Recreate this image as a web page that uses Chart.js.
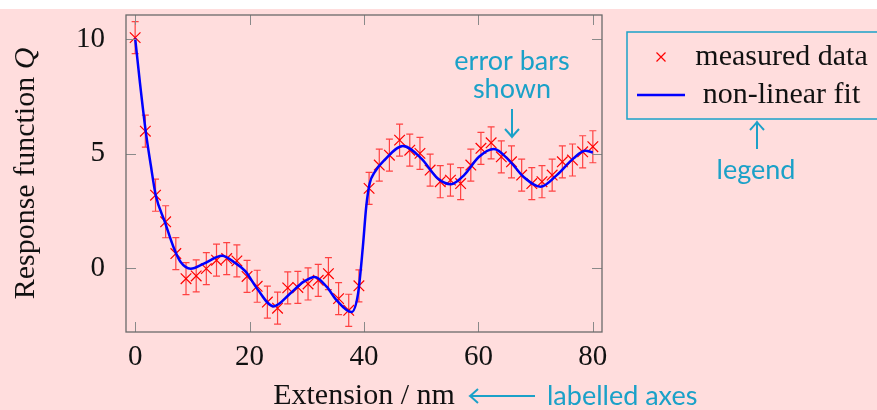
<!DOCTYPE html>
<html lang="en">
<head>
  <meta charset="UTF-8">
  <title>Response function with non-linear fit</title>
  <script src="https://cdn.jsdelivr.net/npm/chart.js@4.4.0/dist/chart.umd.min.js"></script>
  <style>
    body { margin: 0; background: #ffdddd; }
    #wrap { width: 877px; height: 410px; position: relative; }
  </style>
</head>
<body>
<div id="wrap"><canvas id="myChart"></canvas></div>

<script>
// measured points (x in nm, Q with error)
const measuredX = [0, 1.78, 3.56, 5.33, 7.11, 8.89, 10.67, 12.44, 14.22, 16, 17.78, 19.56,
  21.33, 23.11, 24.89, 26.67, 28.44, 30.22, 32, 33.78, 35.56, 37.33, 39.11, 40.89, 42.67,
  44.44, 46.22, 48, 49.78, 51.56, 53.33, 55.11, 56.89, 58.67, 60.44, 62.22, 64, 65.78,
  67.56, 69.33, 71.11, 72.89, 74.67, 76.44, 78.22, 80];
const measuredY = [10.07, 5.98, 3.18, 2.02, 0.63, -0.47, -0.35, -0.03, 0.34, 0.41, 0.31, -0.37,
  -0.8, -1.49, -1.76, -0.87, -0.85, -0.7, -0.54, -0.25, -1.34, -1.85, -0.78, 3.48, 4.5,
  4.93, 5.59, 5.15, 5.01, 4.28, 3.77, 3.84, 3.69, 4.5, 5.23, 5.47, 4.86, 4.64,
  4.06, 3.69, 3.77, 4.06, 4.64, 4.72, 5.08, 5.3];
const measuredErr = [0.7, 0.7, 0.7, 0.7, 0.7, 0.7, 0.7, 0.7, 0.7, 0.7, 0.7, 0.7,
  0.7, 0.7, 0.7, 0.7, 0.7, 0.7, 0.7, 0.7, 0.7, 0.7, 0.7, 0.7, 0.7,
  0.7, 0.7, 0.7, 0.7, 0.7, 0.7, 0.7, 0.7, 0.7, 0.7, 0.7, 0.7, 0.7,
  0.7, 0.7, 0.7, 0.7, 0.7, 0.7, 0.7, 0.7];

// fitted curve
const fitX = [0, 0.82, 1.86, 2.73, 3.6, 5.2, 6.8, 7.95, 9.7, 12, 15.2, 17.3, 19.25, 21.3,
  24.2, 27.1, 29.4, 31.4, 33.5, 35.2, 37.8, 38.96, 39.8, 40.4, 41, 41.9, 43.6, 46.8, 50,
  52.9, 55.2, 57.5, 60.1, 62.7, 65.6, 67.9, 70.85, 73.7, 76.6, 78.7, 80];
const fitY = [10.04, 8.14, 5.95, 4.5, 3.18, 2.01, 0.85, 0.26, -0.03, 0.19, 0.53, 0.25, -0.14, -0.9,
  -1.68, -1.12, -0.61, -0.39, -0.83, -1.41, -1.93, -1.12, 0.92, 2.7, 3.7, 4.2, 4.72, 5.33, 4.79,
  3.91, 3.66, 4.06, 4.86, 5.2, 4.64, 3.98, 3.55, 4.06, 4.79, 5.12, 5.05];

const xTicks = [0, 20, 40, 60, 80];
const yTicks = [0, 5, 10];

const serif = '"Liberation Serif", "DejaVu Serif", serif';
const sans = 'Lato, "Open Sans", sans-serif';
const noteColor = '#1ba1c8';
const ink = '#111';

function arrow(ctx, x1, y1, x2, y2) {
  // line from (x1,y1) with a tikz-like head at (x2,y2)
  const len = Math.hypot(x2 - x1, y2 - y1);
  const dx = (x2 - x1) / len, dy = (y2 - y1) / len;
  const nx = -dy, ny = dx;
  ctx.beginPath();
  ctx.moveTo(x1, y1);
  ctx.lineTo(x2 - dx * 1, y2 - dy * 1);
  ctx.stroke();
  ctx.beginPath();
  ctx.moveTo(x2 - dx * 8 + nx * 7, y2 - dy * 8 + ny * 7);
  ctx.quadraticCurveTo(x2 - dx * 2 + nx * 1.5, y2 - dy * 2 + ny * 1.5, x2, y2);
  ctx.quadraticCurveTo(x2 - dx * 2 - nx * 1.5, y2 - dy * 2 - ny * 1.5, x2 - dx * 8 - nx * 7, y2 - dy * 8 - ny * 7);
  ctx.stroke();
}

function cross(ctx, x, y, r) {
  ctx.beginPath();
  ctx.moveTo(x - r, y - r); ctx.lineTo(x + r, y + r);
  ctx.moveTo(x + r, y - r); ctx.lineTo(x - r, y + r);
  ctx.stroke();
}

const decorations = {
  id: 'decorations',
  beforeDraw(chart) {
    const ctx = chart.ctx;
    ctx.save();
    ctx.fillStyle = '#ffffff';
    ctx.fillRect(0, 0, chart.width, 9);
    ctx.fillStyle = '#ffdddd';
    ctx.fillRect(0, 9, chart.width, chart.height - 9);
    ctx.restore();
  },
  beforeDatasetsDraw(chart) {
    // error bars
    const ctx = chart.ctx, xs = chart.scales.x, ys = chart.scales.y;
    ctx.save();
    ctx.strokeStyle = 'rgba(255, 0, 0, 0.7)';
    ctx.lineWidth = 1.2;
    measuredX.forEach((xv, i) => {
      const px = xs.getPixelForValue(xv);
      const t = ys.getPixelForValue(measuredY[i] + measuredErr[i]);
      const b = ys.getPixelForValue(measuredY[i] - measuredErr[i]);
      ctx.beginPath();
      ctx.moveTo(px, t); ctx.lineTo(px, b);
      ctx.moveTo(px - 3.5, t); ctx.lineTo(px + 3.5, t);
      ctx.moveTo(px - 3.5, b); ctx.lineTo(px + 3.5, b);
      ctx.stroke();
    });
    ctx.restore();
  },
  afterDraw(chart) {
    const ctx = chart.ctx, a = chart.chartArea, xs = chart.scales.x, ys = chart.scales.y;
    ctx.save();

    // inner ticks on all four sides
    ctx.strokeStyle = '#8a8a8a';
    ctx.lineWidth = 1;
    const tl = 10;
    ctx.beginPath();
    xTicks.forEach(v => {
      const px = Math.round(xs.getPixelForValue(v)) + 0.5;
      ctx.moveTo(px, a.bottom); ctx.lineTo(px, a.bottom - tl);
      ctx.moveTo(px, a.top); ctx.lineTo(px, a.top + tl);
    });
    yTicks.forEach(v => {
      const py = Math.round(ys.getPixelForValue(v)) + 0.5;
      ctx.moveTo(a.left, py); ctx.lineTo(a.left + tl, py);
      ctx.moveTo(a.right, py); ctx.lineTo(a.right - tl, py);
    });
    ctx.stroke();

    // frame
    ctx.strokeStyle = '#6a6a6a';
    ctx.lineWidth = 1.3;
    ctx.strokeRect(a.left, a.top, a.right - a.left, a.bottom - a.top);

    // axis titles
    ctx.fillStyle = ink;
    ctx.font = '30px ' + serif;
    ctx.textAlign = 'center';
    ctx.textBaseline = 'alphabetic';
    ctx.fillText('Extension / nm', (a.left + a.right) / 2, 404);

    ctx.save();
    ctx.translate(34, (a.top + a.bottom) / 2);
    ctx.rotate(-Math.PI / 2);
    const part1 = 'Response function ';
    ctx.font = '30px ' + serif;
    const w1 = ctx.measureText(part1).width;
    ctx.font = 'italic 30px ' + serif;
    const w2 = ctx.measureText('Q').width;
    ctx.textAlign = 'left';
    ctx.font = '30px ' + serif;
    ctx.fillText(part1, -(w1 + w2) / 2, 0);
    ctx.font = 'italic 30px ' + serif;
    ctx.fillText('Q', -(w1 + w2) / 2 + w1, 0);
    ctx.restore();

    // legend
    const sets = chart.data.datasets;
    ctx.strokeStyle = noteColor;
    ctx.lineWidth = 1.5;
    ctx.strokeRect(627, 32, 300, 87);
    ctx.strokeStyle = sets[1].borderColor;
    ctx.lineWidth = 1.2;
    cross(ctx, 661, 57, 4.5);
    ctx.strokeStyle = sets[0].borderColor;
    ctx.lineWidth = 2.5;
    ctx.beginPath(); ctx.moveTo(637, 95); ctx.lineTo(685, 95); ctx.stroke();
    ctx.fillStyle = ink;
    ctx.font = '30px ' + serif;
    ctx.textAlign = 'center';
    ctx.fillText(sets[1].label, 781.5, 65);
    ctx.fillText(sets[0].label, 781.5, 103);

    // annotations
    ctx.fillStyle = noteColor;
    ctx.strokeStyle = noteColor;
    ctx.lineWidth = 2;
    ctx.font = '27px ' + sans;
    ctx.textAlign = 'center';
    ctx.fillText('error bars', 512, 70);
    ctx.fillText('shown', 512, 98);
    arrow(ctx, 512, 109, 512, 137);
    ctx.fillText('legend', 756, 179);
    arrow(ctx, 757, 149, 757, 122);
    ctx.textAlign = 'left';
    ctx.fillText('labelled axes', 547, 405);
    arrow(ctx, 535, 396, 470, 396);

    ctx.restore();
  }
};

const fitPoints = fitX.map((x, i) => ({ x: x, y: fitY[i] }));
const measuredPoints = measuredX.map((x, i) => ({ x: x, y: measuredY[i] }));

new Chart(document.getElementById('myChart'), {
  type: 'scatter',
  data: {
    datasets: [{
      label: 'non-linear fit',
      data: fitPoints,
      showLine: true,
      borderColor: '#0000ff',
      borderWidth: 2.5,
      pointRadius: 0,
      cubicInterpolationMode: 'monotone',
      order: 0
    }, {
      label: 'measured data',
      data: measuredPoints,
      pointStyle: 'crossRot',
      pointRadius: 7.5,
      borderColor: '#ff0000',
      borderWidth: 1.2,
      order: 1
    }]
  },
  options: {
    responsive: true,
    maintainAspectRatio: false,
    animation: false,
    layout: { padding: { left: 0, right: 275, top: 15, bottom: 0 } },
    plugins: { legend: { display: false }, tooltip: { enabled: false } },
    scales: {
      x: {
        type: 'linear',
        min: -1.6,
        max: 81.6,
        afterBuildTicks: s => { s.ticks = xTicks.map(v => ({ value: v })); },
        afterFit: s => { s.height = 78; s.paddingLeft = 0; s.paddingRight = 0; },
        grid: { display: false },
        border: { display: false },
        ticks: { color: ink, padding: 0, font: { family: serif, size: 29 } }
      },
      y: {
        type: 'linear',
        min: -2.8,
        max: 11.06,
        afterBuildTicks: s => { s.ticks = yTicks.map(v => ({ value: v })); },
        afterFit: s => { s.width = 126; s.paddingTop = 0; s.paddingBottom = 0; },
        grid: { display: false },
        border: { display: false },
        ticks: { color: ink, padding: 13, font: { family: serif, size: 29 } }
      }
    }
  },
  plugins: [decorations]
});
</script>
</body>
</html>
